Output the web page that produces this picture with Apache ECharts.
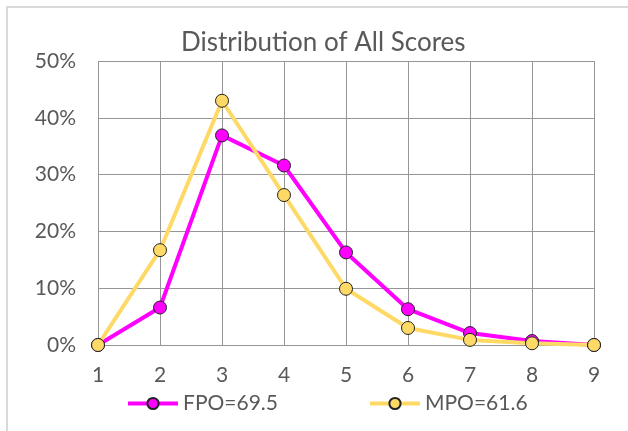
<!DOCTYPE html>
<html>
<head>
<meta charset="utf-8">
<script src="https://cdn.jsdelivr.net/npm/echarts@6/dist/echarts.min.js"></script>
<style>
    html, body { margin: 0; padding: 0; background: #fff; }
    #chart { width: 628px; height: 431px; }
</style>
</head>
<body>
<div id="chart"></div>
<script>
    // scores 1..9
    const categories = ['1', '2', '3', '4', '5', '6', '7', '8', '9']
    // share of scores, percent
    const fpo = [0, 6.6, 36.9, 31.6, 16.3, 6.3, 2.1, 0.7, 0]
    const mpo = [0, 16.7, 43.0, 26.4, 9.9, 3.0, 0.9, 0.3, 0]
    const yTicks = [0, 10, 20, 30, 40, 50]

    const font = 'Lato'
    const textColor = '#595959'
    const gridColor = '#969696'

    const chart = echarts.init(document.getElementById('chart'))

    const lineSeries = (name, data, color) => ({
        name: name,
        type: 'line',
        data: data,
        symbol: 'circle',
        symbolSize: 13,
        lineStyle: { color: color, width: 4 },
        itemStyle: { color: color, borderColor: '#222', borderWidth: 1 },
        emphasis: { disabled: true },
        animation: false
    })

    chart.setOption({
        animation: false,
        graphic: [
            {
                type: 'rect',
                shape: { x: 7, y: 7, width: 700, height: 500 },
                style: { fill: 'none', stroke: '#d9d9d9', lineWidth: 2 },
                silent: true
            }
        ],
        title: {
            text: 'Distribution of All Scores',
            left: 176,
            top: 25,
            textStyle: { fontFamily: font, fontSize: 26, fontWeight: 'normal', color: textColor }
        },
        grid: { left: 98, right: 34, top: 61, bottom: 86 },
        legend: {
            bottom: 12,
            left: 121,
            itemGap: 90,
            itemWidth: 50,
            itemHeight: 14,
            lineStyle: { width: 4 },
            textStyle: { fontFamily: font, fontSize: 21, color: textColor },
            data: ['FPO=69.5', 'MPO=61.6']
        },
        xAxis: {
            type: 'category',
            data: categories,
            boundaryGap: false,
            axisLine: { lineStyle: { color: gridColor } },
            axisTick: { show: false },
            splitLine: { show: true, lineStyle: { color: gridColor } },
            axisLabel: { fontFamily: font, fontSize: 21, color: textColor, margin: 20 }
        },
        yAxis: {
            type: 'value',
            min: yTicks[0],
            max: yTicks[yTicks.length - 1],
            interval: 10,
            axisLine: { show: false },
            axisTick: { show: false },
            splitLine: { lineStyle: { color: gridColor } },
            axisLabel: { fontFamily: font, fontSize: 21, color: textColor, margin: 22, formatter: '{value}%' }
        },
        series: [
            lineSeries('FPO=69.5', fpo, '#ff00ff'),
            lineSeries('MPO=61.6', mpo, '#ffd966')
        ]
    })
</script>
</body>
</html>
